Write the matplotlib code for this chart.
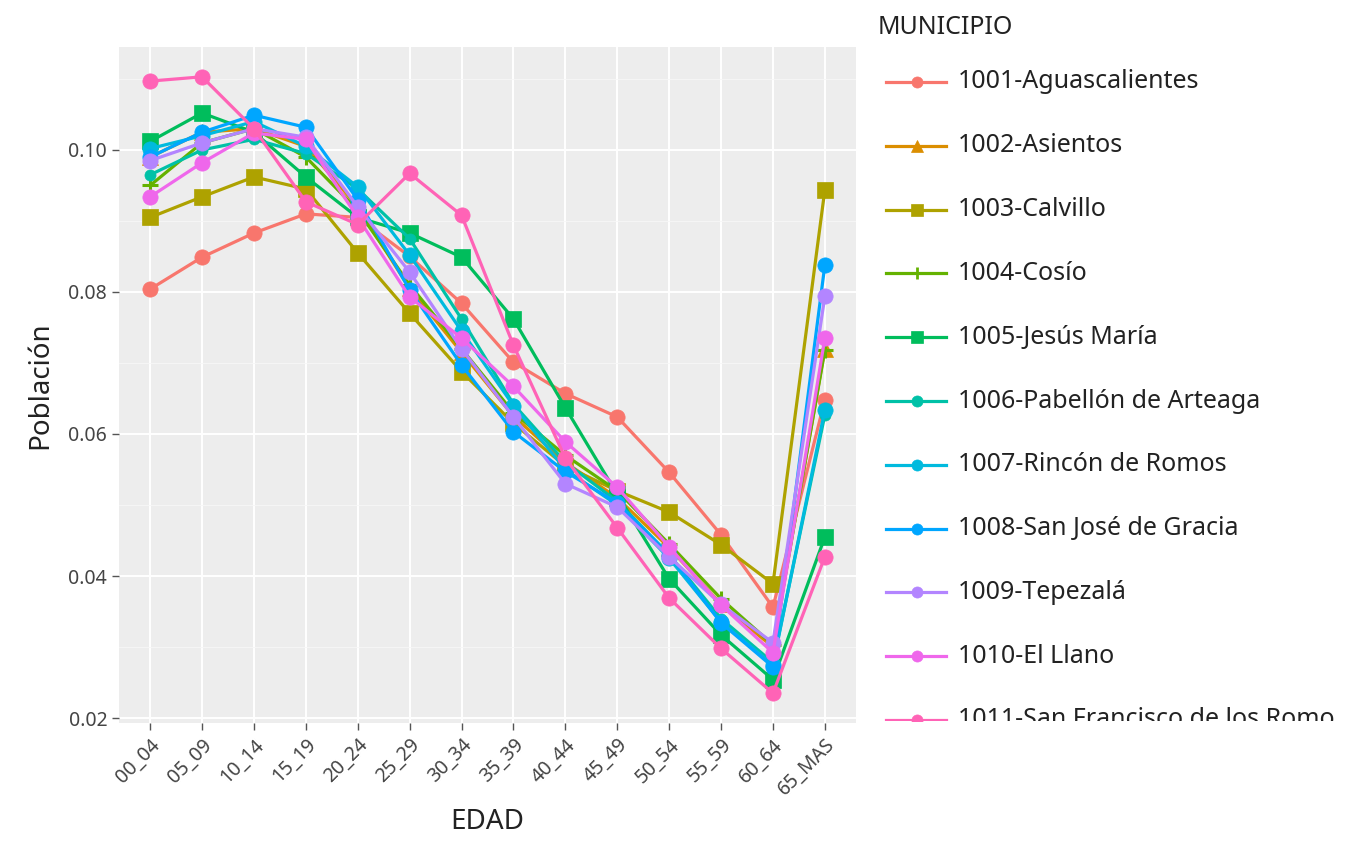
import numpy as np
import matplotlib
matplotlib.use("Agg")
import matplotlib.pyplot as plt
from matplotlib.lines import Line2D
from matplotlib.transforms import Bbox
from matplotlib.ticker import MultipleLocator

plt.rcParams["font.family"] = ["Noto Sans", "DejaVu Sans"]

edad = ["00_04", "05_09", "10_14", "15_19", "20_24", "25_29", "30_34",
        "35_39", "40_44", "45_49", "50_54", "55_59", "60_64", "65_MAS"]

municipios = ["1001-Aguascalientes", "1002-Asientos", "1003-Calvillo", "1004-Cosío",
              "1005-Jesús María", "1006-Pabellón de Arteaga", "1007-Rincón de Romos",
              "1008-San José de Gracia", "1009-Tepezalá", "1010-El Llano",
              "1011-San Francisco de los Romo"]

aguascalientes = [0.0804, 0.0849, 0.0883, 0.0910, 0.0905, 0.0850, 0.0784, 0.0701, 0.0657, 0.0624, 0.0546, 0.0458, 0.0356, 0.0648]
asientos       = [0.0990, 0.1025, 0.1030, 0.1005, 0.0920, 0.0805, 0.0715, 0.0625, 0.0560, 0.0510, 0.0440, 0.0360, 0.0300, 0.0720]
calvillo       = [0.0905, 0.0934, 0.0962, 0.0945, 0.0855, 0.0770, 0.0688, 0.0615, 0.0555, 0.0520, 0.0490, 0.0444, 0.0389, 0.0944]
cosio          = [0.0950, 0.1010, 0.1030, 0.0990, 0.0915, 0.0810, 0.0720, 0.0630, 0.0570, 0.0520, 0.0445, 0.0368, 0.0303, 0.0718]
jesus_maria    = [0.1012, 0.1052, 0.1025, 0.0962, 0.0905, 0.0883, 0.0849, 0.0762, 0.0637, 0.0515, 0.0396, 0.0317, 0.0254, 0.0455]
pabellon       = [0.0965, 0.1000, 0.1015, 0.0995, 0.0945, 0.0875, 0.0762, 0.0642, 0.0560, 0.0505, 0.0430, 0.0340, 0.0278, 0.0627]
rincon         = [0.1002, 0.1020, 0.1040, 0.1005, 0.0948, 0.0852, 0.0745, 0.0640, 0.0550, 0.0500, 0.0425, 0.0335, 0.0275, 0.0634]
san_jose       = [0.0990, 0.1025, 0.1049, 0.1032, 0.0930, 0.0803, 0.0697, 0.0603, 0.0547, 0.0503, 0.0430, 0.0334, 0.0272, 0.0838]
tepezala       = [0.0985, 0.1010, 0.1030, 0.1018, 0.0920, 0.0828, 0.0720, 0.0624, 0.0530, 0.0497, 0.0427, 0.0360, 0.0306, 0.0794]
el_llano       = [0.0934, 0.0982, 0.1024, 0.1015, 0.0905, 0.0793, 0.0735, 0.0667, 0.0589, 0.0525, 0.0441, 0.0359, 0.0292, 0.0735]
san_francisco  = [0.1097, 0.1103, 0.1030, 0.0927, 0.0895, 0.0967, 0.0908, 0.0725, 0.0566, 0.0468, 0.0369, 0.0298, 0.0235, 0.0427]

series = [aguascalientes, asientos, calvillo, cosio, jesus_maria, pabellon,
          rincon, san_jose, tepezala, el_llano, san_francisco]

colors = ["#F8766D", "#DB8E00", "#AEA200", "#64B200", "#00BD5C", "#00C1A7",
          "#00BADE", "#00A6FF", "#B385FF", "#EF67EB", "#FF63B6"]
markers = ["o", "^", "s", "+", "s", "o", "o", "o", "o", "o", "o"]
msizes = [11, 11, 11, 12, 11, 8, 11, 11, 11, 11, 11]

W, H = 1357, 852
fig = plt.figure(figsize=(W / 100, H / 100), dpi=100)
ax = fig.add_axes([119 / W, 1 - 723 / H, (856 - 119) / W, (723 - 47) / H])

x = np.arange(len(edad))
for vals, c, m, ms in zip(series, colors, markers, msizes):
    ax.plot(x, vals, color=c, lw=2.3, marker=m, markersize=ms,
            markeredgewidth=2.2 if m == "+" else 0.5, markeredgecolor=c)

ax.set_facecolor("#EDEDED")
for s in ax.spines.values():
    s.set_visible(False)
ax.set_xlim(-0.6, len(edad) - 0.4)
ax.set_ylim(0.0193, 0.1145)
ax.yaxis.set_minor_locator(MultipleLocator(0.01))
ax.set_xticks(x)
ax.set_xticklabels(edad, rotation=45, ha="right", rotation_mode="anchor")
ax.set_yticks([0.02, 0.04, 0.06, 0.08, 0.10])
ax.set_yticklabels(["0.02", "0.04", "0.06", "0.08", "0.10"])
ax.grid(which="major", color="white", lw=1.4)
ax.grid(which="minor", axis="y", color="#F7F7F7", lw=0.6)
ax.set_axisbelow(True)
ax.tick_params(axis="both", which="major", length=5, width=1, color="#555555",
               labelsize=14, labelcolor="#444444")
ax.tick_params(axis="y", which="minor", length=0)
ax.set_xlabel("EDAD", fontsize=20, color="#222222", labelpad=6)
ax.set_ylabel("Población", fontsize=20, color="#222222", labelpad=10)

# legend drawn by hand so the last entry can be cut off like the reference
fig.text(878 / W, 1 - 27 / H, "MUNICIPIO", fontsize=18, color="#222222",
         ha="left", va="center")
clip = Bbox.from_extents(0, H - 721, W, H)
for i, (name, c, m) in enumerate(zip(municipios, colors, markers)):
    yc = 1 - (82 + i * 63.8) / H
    ln = Line2D([886 / W, 946 / W], [yc, yc], transform=fig.transFigure,
                color=c, lw=2.3)
    mk = Line2D([917 / W], [yc], transform=fig.transFigure, color=c,
                marker=m, markersize=8 if m != "+" else 9,
                markeredgewidth=2 if m == "+" else 0.5, markeredgecolor=c, lw=0)
    fig.add_artist(ln)
    fig.add_artist(mk)
    t = fig.text(958 / W, yc, name, fontsize=18, color="#222222",
                 ha="left", va="center")
    if i == len(municipios) - 1:
        for art in (t, ln, mk):
            art.set_clip_box(clip)
            art.set_clip_on(True)

fig.savefig("out.png", dpi=100)
